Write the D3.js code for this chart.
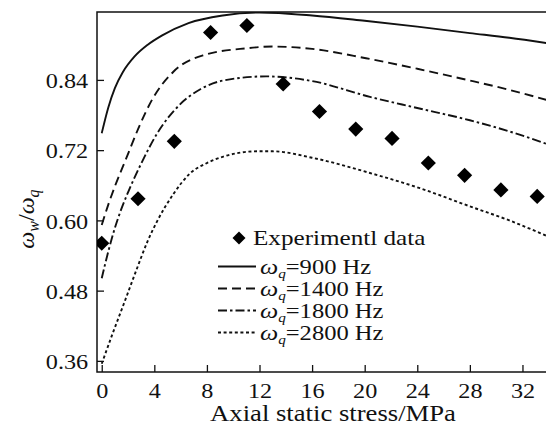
<!DOCTYPE html>
<html>
<head>
<meta charset="utf-8">
<script src="https://cdn.jsdelivr.net/npm/d3@7"></script>
<style>
  html, body { margin: 0; padding: 0; background: #fff; }
  svg { display: block; }
  text { font-family: "Liberation Serif", "Times New Roman", serif; fill: #111; }
</style>
</head>
<body>
<svg id="chart" width="546" height="429"></svg>
<script>
// Axial static stress (MPa) and measured frequency ratio
const stressExp = [0, 2.76, 5.52, 8.28, 11.04, 13.8, 16.56, 19.32, 22.08, 24.84, 27.6, 30.36, 33.12];
const ratioExp  = [0.561, 0.637, 0.735, 0.921, 0.933, 0.833, 0.786, 0.756, 0.740, 0.698, 0.677, 0.652, 0.641];

// Model curves for each excitation frequency
const stress900 = [0, 0.5, 1.0, 1.6, 2.5, 3.5, 4.6, 6.6, 9.2, 12, 16, 20, 24, 28, 31, 33.8];
const ratio900  = [0.749, 0.793, 0.826, 0.853, 0.880, 0.900, 0.916, 0.937, 0.950, 0.955, 0.950, 0.941, 0.931, 0.920, 0.912, 0.903];

const stress1400 = [0, 0.5, 1, 1.9, 2.9, 3.8, 5.45, 7.7, 11, 13, 16, 20.1, 24, 27.8, 31, 33.8];
const ratio1400  = [0.592, 0.627, 0.658, 0.708, 0.763, 0.805, 0.854, 0.882, 0.894, 0.897, 0.893, 0.877, 0.859, 0.840, 0.823, 0.806];

const stress1800 = [0, 0.5, 1, 1.5, 2, 3, 4.2, 5.9, 7.5, 9.25, 12.5, 16, 20.4, 24, 28, 31, 33.8];
const ratio1800  = [0.501, 0.547, 0.587, 0.620, 0.648, 0.697, 0.748, 0.797, 0.824, 0.839, 0.846, 0.838, 0.811, 0.792, 0.771, 0.752, 0.731];

const stress2800 = [0, 0.8, 1.64, 2.6, 3.5, 4.2, 5.45, 6.7, 8, 9.25, 11.8, 13, 16, 20.4, 24.2, 28, 31, 33.8];
const ratio2800  = [0.355, 0.405, 0.455, 0.513, 0.565, 0.598, 0.645, 0.680, 0.698, 0.709, 0.718, 0.718, 0.707, 0.681, 0.655, 0.624, 0.600, 0.574];

const freqLabels = ["900", "1400", "1800", "2800"];
const xTicks = [0, 4, 8, 12, 16, 20, 24, 28, 32];
const yTicks = [0.36, 0.48, 0.60, 0.72, 0.84];

const svg = d3.select("#chart");
const plotL = 97, plotR = 546, plotT = 12, plotB = 372;
const tickStretch = "scale(1.1,1)";

const x = d3.scaleLinear().domain([-0.36, 33.79]).range([plotL, plotR]);
const y = d3.scaleLinear().domain([0.341, 0.956]).range([plotB, plotT]);

svg.append("defs").append("clipPath").attr("id", "plot")
  .append("rect").attr("x", plotL).attr("y", plotT).attr("width", plotR - plotL).attr("height", plotB - plotT);

// frame: left, top and bottom edges (right edge lies outside the canvas)
svg.append("rect")
  .attr("x", plotL).attr("y", plotT)
  .attr("width", plotR - plotL + 4).attr("height", plotB - plotT)
  .attr("fill", "none").attr("stroke", "#111").attr("stroke-width", 1.5);

// axes with inward ticks
const gx = svg.append("g").attr("transform", `translate(0,${plotB})`)
  .call(d3.axisBottom(x).tickValues(xTicks).tickSizeInner(-7).tickSizeOuter(0).tickPadding(0).tickFormat(d3.format("d")));
gx.select(".domain").remove();
gx.selectAll("line").attr("stroke", "#111").attr("stroke-width", 1.3);
gx.selectAll("text").attr("y", 26).attr("dy", null)
  .attr("font-size", 22).attr("transform", tickStretch);

const gy = svg.append("g").attr("transform", `translate(${plotL},0)`)
  .call(d3.axisLeft(y).tickValues(yTicks).tickSizeInner(-7).tickSizeOuter(0).tickPadding(0).tickFormat(d3.format(".2f")));
gy.select(".domain").remove();
gy.selectAll("line").attr("stroke", "#111").attr("stroke-width", 1.3);
gy.selectAll("text").attr("x", -8).attr("dy", "0.35em")
  .attr("font-size", 22).attr("transform", tickStretch);
svg.selectAll(".tick text").attr("fill", "#111");

// axis titles
svg.append("text")
  .attr("transform", "translate(333,421) scale(1.16,1)")
  .attr("text-anchor", "middle").attr("font-size", 23)
  .text("Axial static stress/MPa");

const yl = svg.append("text")
  .attr("transform", "translate(34,219) rotate(-90)")
  .attr("text-anchor", "middle").attr("font-size", 24);
yl.append("tspan").attr("font-style", "italic").text("ω");
yl.append("tspan").attr("font-style", "italic").attr("font-size", 16).attr("dy", 5).text("w");
yl.append("tspan").attr("dy", -5).text("/");
yl.append("tspan").attr("font-style", "italic").text("ω");
yl.append("tspan").attr("font-style", "italic").attr("font-size", 16).attr("dy", 5).text("q");

// model curves
const series = [
  { xs: stress900,  ys: ratio900,  dash: null },
  { xs: stress1400, ys: ratio1400, dash: "9,5" },
  { xs: stress1800, ys: ratio1800, dash: "9,3,2.5,3" },
  { xs: stress2800, ys: ratio2800, dash: "3,2.6" }
];
const line = d3.line().x(d => x(d[0])).y(d => y(d[1])).curve(d3.curveMonotoneX);
const plot = svg.append("g").attr("clip-path", "url(#plot)");
series.forEach(s => {
  plot.append("path")
    .datum(d3.zip(s.xs, s.ys))
    .attr("d", line)
    .attr("fill", "none").attr("stroke", "#111").attr("stroke-width", 1.9)
    .attr("stroke-dasharray", s.dash);
});

// experimental points as diamonds
const diamond = d3.symbol(d3.symbolSquare, 115);
plot.selectAll(".pt").data(d3.zip(stressExp, ratioExp)).join("path")
  .attr("class", "pt")
  .attr("d", diamond)
  .attr("transform", d => `translate(${x(d[0])},${y(d[1])}) rotate(45)`)
  .attr("fill", "#000");

// legend
const legendStretch = "scale(1.17,1)";
const lg = svg.append("g");
lg.append("path").attr("d", d3.symbol(d3.symbolSquare, 85))
  .attr("transform", "translate(239,238) rotate(45)").attr("fill", "#000");
lg.append("text").attr("transform", `translate(253,245) ${legendStretch}`)
  .attr("font-size", 21.5).text("Experimentl data");

series.forEach((s, i) => {
  const ly = 266.5 + i * 22;
  lg.append("line").attr("x1", 218).attr("x2", 256).attr("y1", ly).attr("y2", ly)
    .attr("stroke", "#111").attr("stroke-width", 1.9).attr("stroke-dasharray", s.dash);
  const t = lg.append("text").attr("transform", `translate(260,${ly + 7}) ${legendStretch}`).attr("font-size", 21);
  t.append("tspan").attr("font-style", "italic").attr("font-size", 22).text("ω");
  t.append("tspan").attr("font-style", "italic").attr("font-size", 13).attr("dy", 4).text("q");
  t.append("tspan").attr("dy", -4).text("=" + freqLabels[i] + " Hz");
});
</script>
</body>
</html>
